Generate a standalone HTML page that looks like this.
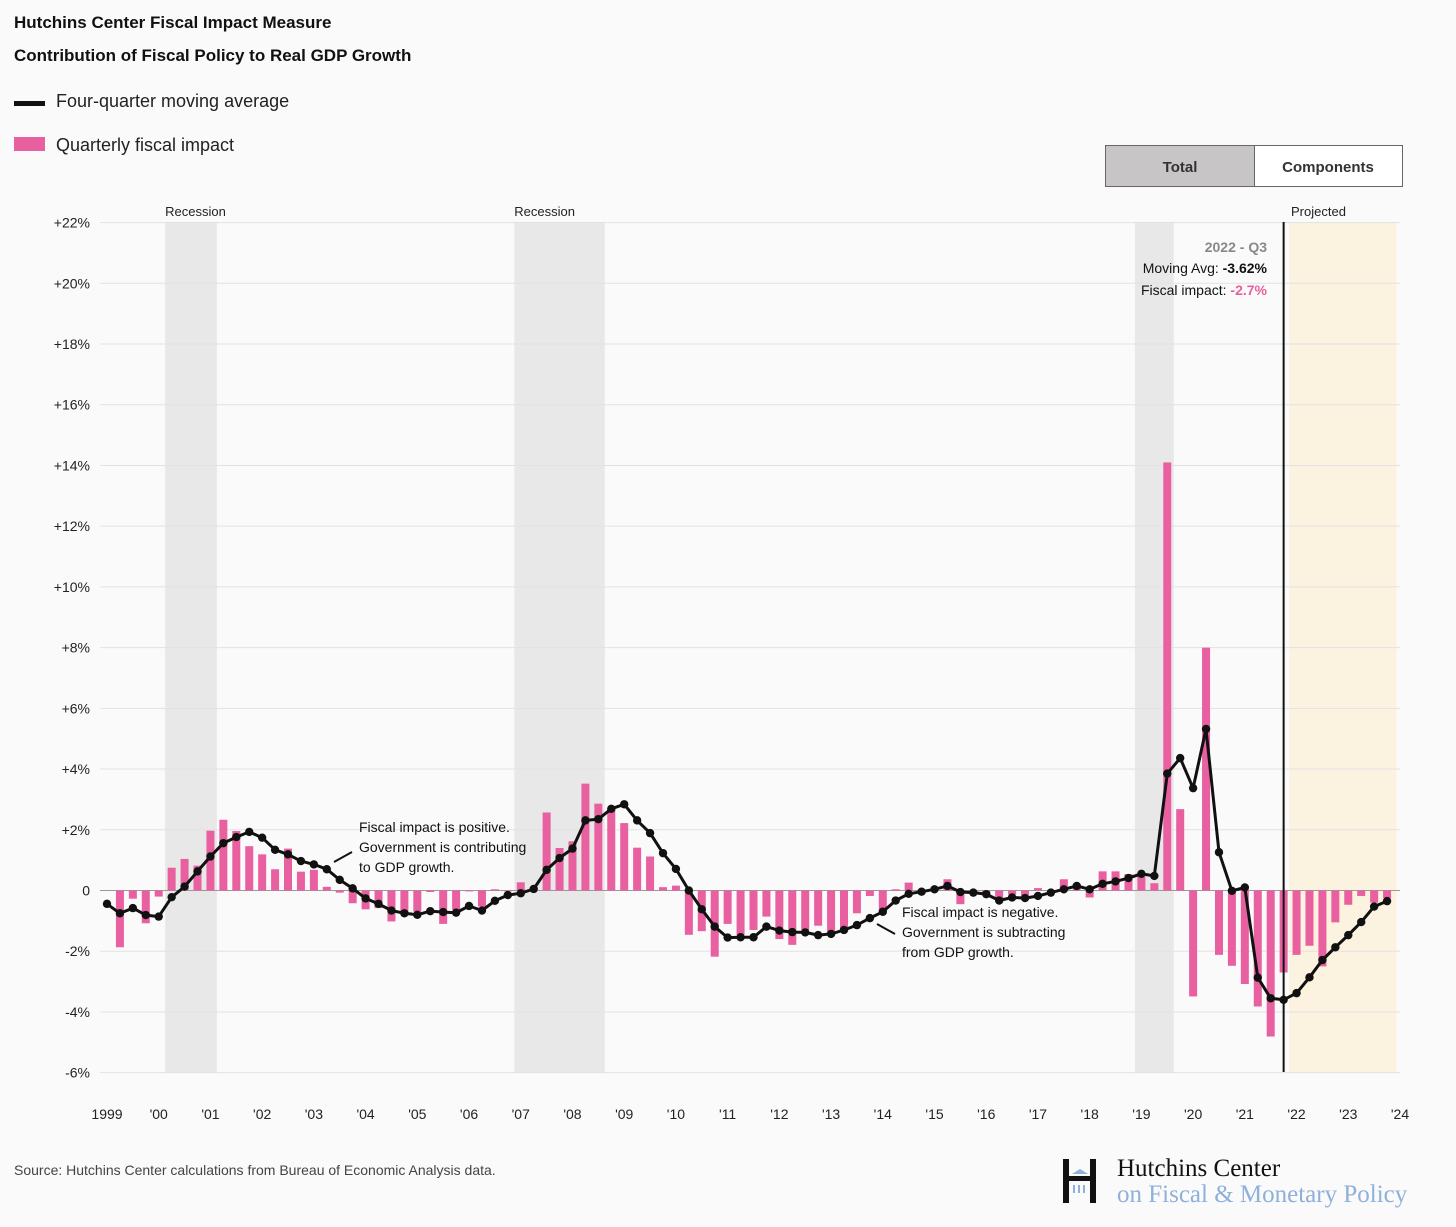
<!DOCTYPE html>
<html><head><meta charset="utf-8"><style>
body{margin:0;background:#fafafa;font-family:"Liberation Sans",sans-serif;}
#wrap{position:relative;width:1456px;height:1227px;overflow:hidden;background:#fafafa}
</style></head><body>
<div id="wrap">
<svg id="svg" width="1456" height="1227" xmlns="http://www.w3.org/2000/svg" style="position:absolute;left:0;top:0;font-family:'Liberation Sans',sans-serif">
<text x="14" y="28" font-size="17" font-weight="bold" fill="#111">Hutchins Center Fiscal Impact Measure</text>
<text x="14" y="61" font-size="17" font-weight="bold" fill="#111">Contribution of Fiscal Policy to Real GDP Growth</text>
<g><rect x="14" y="101" width="31" height="5" fill="#111"/><text x="56" y="107" font-size="18" fill="#222">Four-quarter moving average</text></g>
<g><rect x="14" y="137" width="31" height="14" fill="#e8609f"/><text x="56" y="151" font-size="18" fill="#222">Quarterly fiscal impact</text></g>
<g><rect x="1105.5" y="145.5" width="149" height="41" fill="#c7c5c5" stroke="#666"/><text x="1180" y="172" font-size="15" font-weight="bold" fill="#333" text-anchor="middle">Total</text></g>
<g><rect x="1254.5" y="145.5" width="148" height="41" fill="#fff" stroke="#666"/><text x="1328" y="172" font-size="15" font-weight="bold" fill="#333" text-anchor="middle">Components</text></g>
<g id="plot"></g>
<text x="14" y="1175" font-size="14" fill="#444">Source: Hutchins Center calculations from Bureau of Economic Analysis data.</text>
<g>
<rect x="1063" y="1159" width="6" height="44" fill="#111"/><rect x="1090" y="1159" width="6" height="44" fill="#111"/><rect x="1063" y="1176" width="33" height="5" fill="#111"/>
<polygon points="1072,1174 1080,1169 1088,1174" fill="#8fb0da"/>
<rect x="1073" y="1185" width="2" height="8" fill="#8fb0da"/><rect x="1078" y="1185" width="2" height="8" fill="#8fb0da"/><rect x="1083" y="1185" width="2" height="8" fill="#8fb0da"/>
<text x="1117" y="1176" font-size="25" font-family="'Liberation Serif',serif" fill="#111">Hutchins Center</text>
<text x="1117" y="1202" font-size="25" font-family="'Liberation Serif',serif" fill="#8fb0da">on Fiscal &amp; Monetary Policy</text>
</g>
</svg>
</div>
<script>
const barValues=[0,-1.87,-0.27,-1.08,-0.2,0.75,1.04,0.82,1.97,2.33,1.96,1.46,1.19,0.7,1.38,0.62,0.68,0.12,-0.07,-0.42,-0.62,-0.58,-1.02,-0.75,-0.7,-0.05,-1.1,-0.64,-0.03,-0.53,0.04,-0.03,0.27,0.02,2.57,1.4,1.62,3.52,2.86,2.68,2.22,1.41,1.12,0.11,0.16,-1.46,-1.34,-2.18,-1.1,-1.46,-1.3,-0.86,-1.6,-1.79,-1.3,-1.16,-1.46,-1.35,-0.75,-0.18,-0.7,0.04,0.26,-0.03,0.11,0.37,-0.45,-0.07,-0.14,-0.3,-0.14,-0.25,0.08,-0.03,0.37,0.19,-0.23,0.63,0.63,0.54,0.46,0.24,14.1,2.68,-3.49,8.0,-2.12,-2.48,-3.08,-3.82,-4.81,-2.7,-2.12,-1.82,-2.5,-1.05,-0.47,-0.18,-0.4,-0.25];
const avgValues=[-0.44,-0.75,-0.58,-0.81,-0.86,-0.22,0.13,0.63,1.12,1.56,1.76,1.93,1.74,1.34,1.19,0.97,0.86,0.7,0.35,0.07,-0.26,-0.44,-0.66,-0.75,-0.8,-0.68,-0.71,-0.73,-0.51,-0.66,-0.34,-0.15,-0.09,0.05,0.68,1.07,1.38,2.31,2.35,2.69,2.84,2.31,1.89,1.23,0.71,0.0,-0.62,-1.19,-1.55,-1.54,-1.54,-1.19,-1.32,-1.37,-1.38,-1.47,-1.43,-1.3,-1.14,-0.91,-0.7,-0.33,-0.11,-0.04,0.04,0.15,-0.05,-0.07,-0.12,-0.33,-0.23,-0.25,-0.18,-0.07,0.04,0.15,0.04,0.22,0.3,0.41,0.55,0.48,3.85,4.36,3.37,5.32,1.26,-0.01,0.1,-2.87,-3.55,-3.6,-3.38,-2.86,-2.29,-1.87,-1.47,-1.04,-0.53,-0.35];
const yTicks=[22,20,18,16,14,12,10,8,6,4,2,0,-2,-4,-6];
const xTickLabels=["1999","'00","'01","'02","'03","'04","'05","'06","'07","'08","'09","'10","'11","'12","'13","'14","'15","'16","'17","'18","'19","'20","'21","'22","'23","'24"];
const recessions=[[4.5,8.5,1],[31.5,38.5,1],[79.5,82.5,0]];
const projectedStart=91.5, projectedEnd=99.8, markerIndex=91;

const NS="http://www.w3.org/2000/svg";
const plot=document.getElementById('plot');
const X0=107, DX=12.93, Y0=890.5, PY=30.36, LEFT=100, RIGHT=1400;
const xs=i=>X0+i*DX, ys=v=>Y0-v*PY;
function mk(t,a,p){const e=document.createElementNS(NS,t);for(const k in a)e.setAttribute(k,a[k]);(p||plot).appendChild(e);return e;}
const BOT=ys(-6);
recessions.forEach(r=>{const e=mk('rect',{x:xs(r[0]),y:222,width:(r[1]-r[0])*DX,height:BOT-222,fill:'#e8e8e8'});


if(r[2]){const t=mk('text',{x:xs(r[0]),y:216,'font-size':13,fill:'#222'});t.textContent='Recession';

}});
const pr=mk('rect',{x:xs(projectedStart)-1,y:222,width:(projectedEnd-projectedStart)*DX,height:BOT-222,fill:'#fbf3df'});


const pt=mk('text',{x:1291,y:216,'font-size':13,fill:'#222'});pt.textContent='Projected';


yTicks.forEach(v=>{const l=mk('line',{x1:LEFT,x2:RIGHT,y1:ys(v),y2:ys(v),stroke:v===0?'#999':'#e2e2e2','stroke-width':1});


const t=mk('text',{x:90,y:ys(v)+5,'font-size':14,fill:'#222','text-anchor':'end'});t.textContent=v>0?'+'+v+'%':v<0?v+'%':'0';

});
xTickLabels.forEach((s,k)=>{const t=mk('text',{x:xs(k*4),y:1119,'font-size':14,fill:'#222','text-anchor':'middle'});t.textContent=s;

});
barValues.forEach((v,i)=>{if(v===0)return;const b=mk('rect',{x:xs(i)-4,y:Math.min(ys(v),Y0),width:8,height:Math.abs(v*PY),fill:'#e8609f'});

});
mk('line',{x1:334,y1:862,x2:352,y2:852,stroke:'#111','stroke-width':2});
const a1=mk('text',{'font-size':14,fill:'#111'});
['Fiscal impact is positive.','Government is contributing','to GDP growth.'].forEach((s,k)=>{const ts=mk('tspan',{x:359,y:832+k*20},a1);ts.textContent=s;});
mk('line',{x1:877,y1:924,x2:895,y2:934,stroke:'#111','stroke-width':2});
const a2=mk('text',{'font-size':14,fill:'#111'});
['Fiscal impact is negative.','Government is subtracting','from GDP growth.'].forEach((s,k)=>{const ts=mk('tspan',{x:902,y:917+k*20},a2);ts.textContent=s;});
const pts=avgValues.map((v,i)=>xs(i).toFixed(1)+','+ys(v).toFixed(1)).join(' ');
const pl=mk('polyline',{points:pts,fill:'none',stroke:'#111','stroke-width':3,'stroke-linejoin':'round'});


avgValues.forEach((v,i)=>{const c=mk('circle',{cx:xs(i),cy:ys(v),r:4.2,fill:'#111'});

});
const ml=mk('line',{x1:xs(markerIndex),x2:xs(markerIndex),y1:222,y2:1072,stroke:'#111','stroke-width':2});


const tt=mk('g',{});
const t1=mk('text',{x:1267,y:252,'font-size':14,'font-weight':'bold',fill:'#888','text-anchor':'end'},tt);t1.textContent='2022 - Q3';
const t2=mk('text',{x:1267,y:273,'font-size':14,fill:'#111','text-anchor':'end'},tt);t2.innerHTML='Moving Avg: <tspan font-weight="bold">'+avgValues[markerIndex].toFixed(2).replace('-3.60','-3.62')+'%</tspan>';
const t3=mk('text',{x:1267,y:295,'font-size':14,fill:'#111','text-anchor':'end'},tt);t3.innerHTML='Fiscal impact: <tspan font-weight="bold" fill="#e8609f">'+barValues[markerIndex]+'%</tspan>';
</script>
</body></html>
